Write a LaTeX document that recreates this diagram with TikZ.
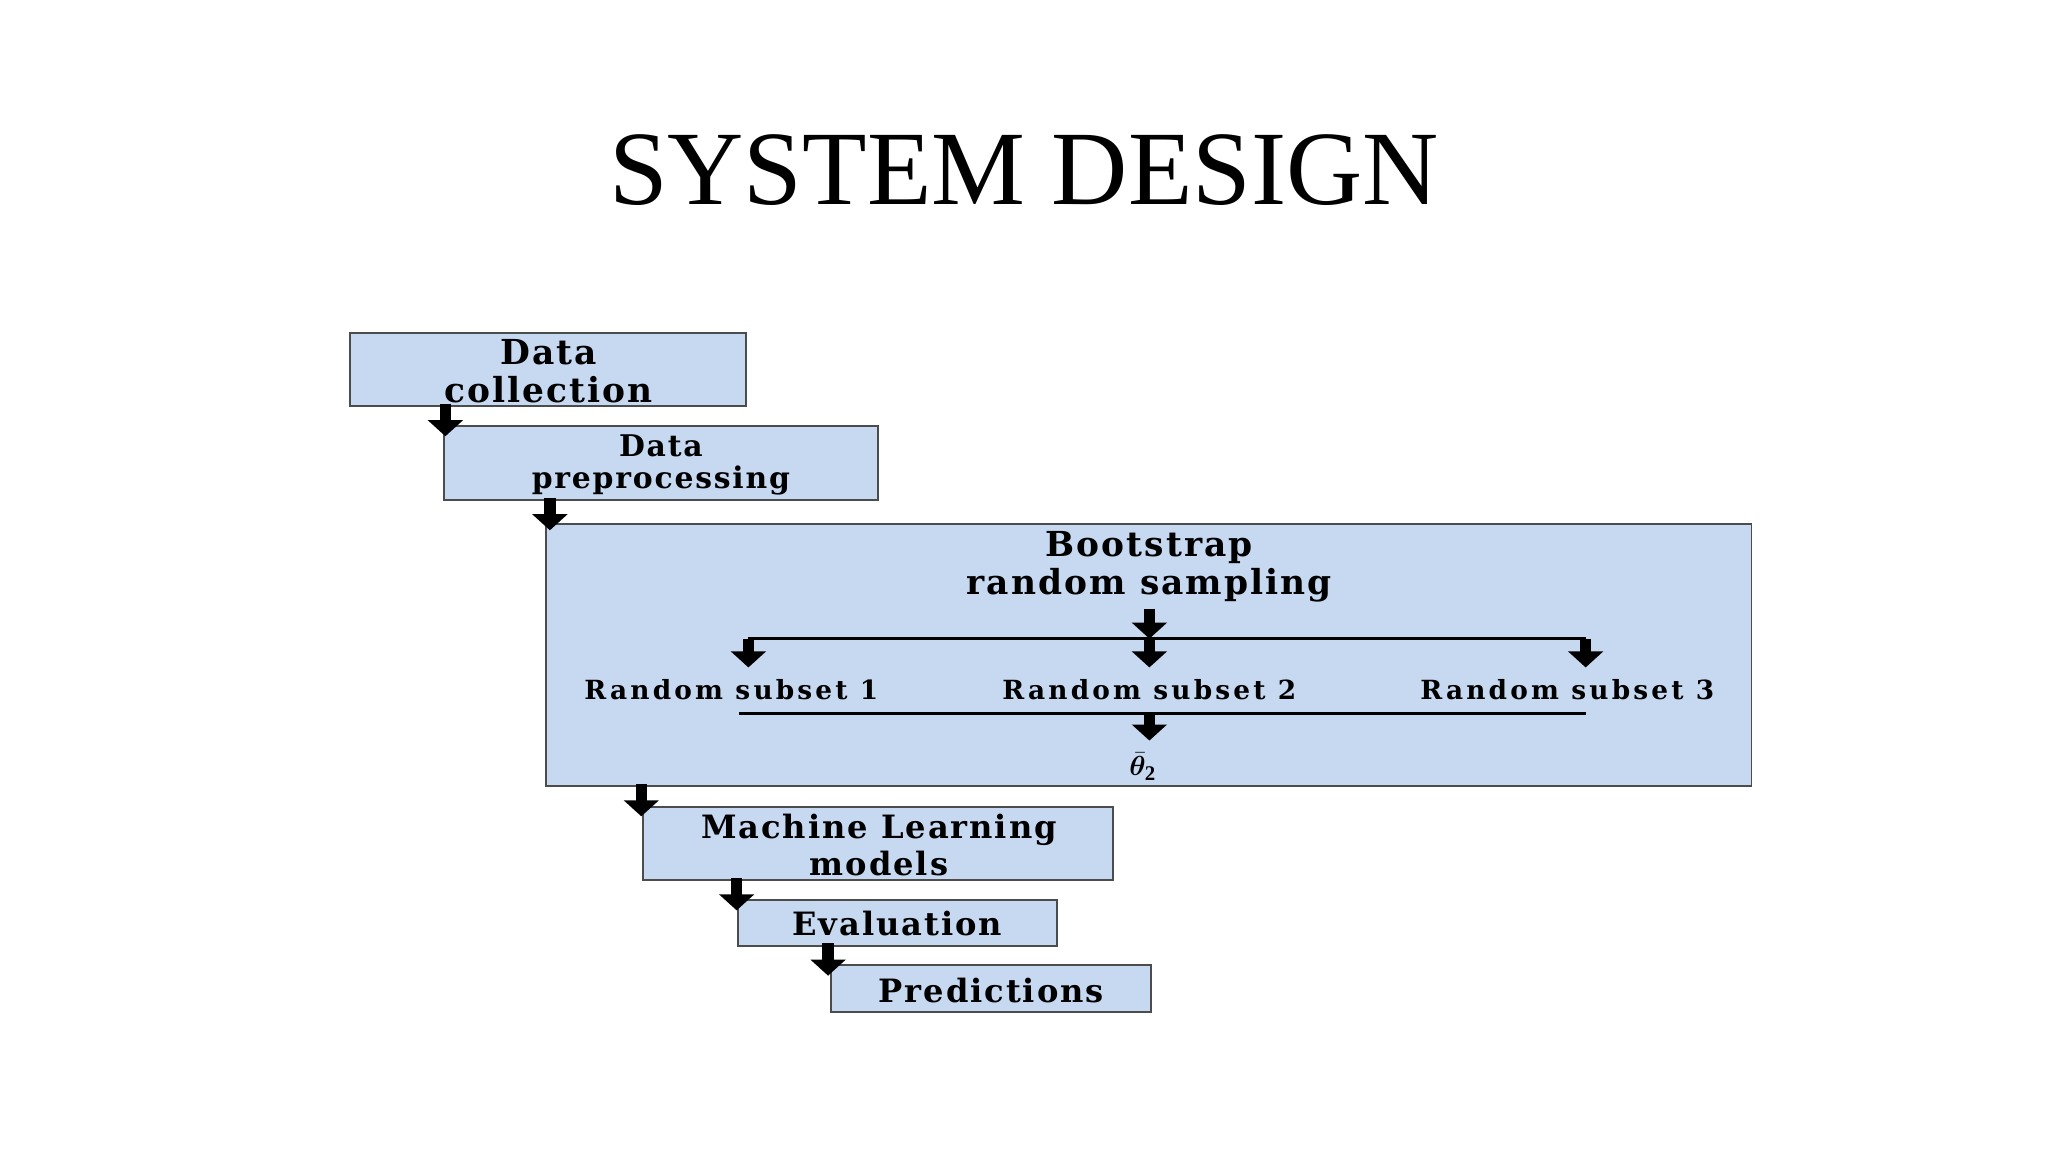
\documentclass[tikz,border=0pt]{standalone}
\usepackage{amsmath,amssymb,bm}
\usepackage{fontspec}
\setmainfont{Liberation Serif}
\newfontfamily\bodyf{DejaVu Serif}[LetterSpace=6]
\newfontfamily\subf{DejaVu Serif}[LetterSpace=12]
\usetikzlibrary{arrows.meta}
\definecolor{boxblue}{HTML}{C6D9F1}
\begin{document}
\begin{tikzpicture}[x={(0.02cm,0)},y={(0,-0.02cm)},
  box/.style={draw=black!70,line width=0.8pt,fill=boxblue},
  lab/.style={font=\bodyf\fontsize{14}{16}\selectfont\bfseries,align=center},
  small/.style={font=\subf\fontsize{11.5}{12}\selectfont\bfseries},
  fat/.style={line width=5pt,-{Triangle[width=15pt,length=7pt]}},
  thin/.style={line width=1.3pt}]
\useasboundingbox (0,0) rectangle (1568,882);
\fill[white] (0,0) rectangle (1568,882);
\node[font=\fontsize{46}{46}\selectfont] (title) at (784,130) {SYSTEM DESIGN};
% boxes
\draw[box] (268,255) rectangle (571,311);
\draw[box] (340,326) rectangle (672,383);
\draw[box] (418,401) rectangle (1341,602);
\draw[box] (492,618) rectangle (852,674);
\draw[box] (565,689) rectangle (809,724);
\draw[box] (636,739) rectangle (881,775);
\node[lab,font=\bodyf\fontsize{15}{16.5}\selectfont\bfseries] (dc) at (420,284) {Data\\collection};
\node[lab,font=\bodyf\fontsize{13}{14}\selectfont\bfseries] (dp) at (506,356) {Data\\preprocessing};
\node[lab,font=\bodyf\fontsize{15}{16.5}\selectfont\bfseries] (bs) at (880,434) {Bootstrap\\random sampling};
\node[small] (r1) at (560,528) {Random subset 1};
\node[small] (r2) at (880,528) {Random subset 2};
\node[small] (r3) at (1200,528) {Random subset 3};
\node[font=\fontsize{13}{13}\selectfont,inner sep=1pt] (th) at (875,587) {$\bar{\bm\theta}_{\mathbf 2}$};
\node[lab] (ml) at (673,647) {Machine Learning\\models};
\node[lab] (ev) at (687,707) {Evaluation};
\node[lab] (pr) at (759,758) {Predictions};
% coordinates
\coordinate (a1) at (341,309); \coordinate (a1e) at (341,334);
\coordinate (a2) at (421,381); \coordinate (a2e) at (421,406);
\coordinate (a3) at (491,600); \coordinate (a3e) at (491,625);
\coordinate (a4) at (564,672); \coordinate (a4e) at (564,697);
\coordinate (a5) at (634,722); \coordinate (a5e) at (634,747);
\coordinate (l1a) at (573,489); \coordinate (l1b) at (1214,489);
\coordinate (c0) at (880,466); \coordinate (c1) at (880,489);
\coordinate (l2a) at (566,546); \coordinate (l2b) at (1214,546);
\coordinate (c2) at (880,546);
\draw[fat] (a1) -- (a1e);
\draw[fat] (a2) -- (a2e);
\draw[fat] (a3) -- (a3e);
\draw[fat] (a4) -- (a4e);
\draw[fat] (a5) -- (a5e);
\draw[thin] (l1a) -- (l1b);
\draw[fat] (c0) -- (c1);
\draw[fat] (l1a) -- (573,511);
\draw[fat] (c1) -- (880,511);
\draw[fat] (l1b) -- (1214,511);
\draw[thin] (l2a) -- (l2b);
\draw[fat] (c2) -- (880,567);
\end{tikzpicture}
\end{document}
